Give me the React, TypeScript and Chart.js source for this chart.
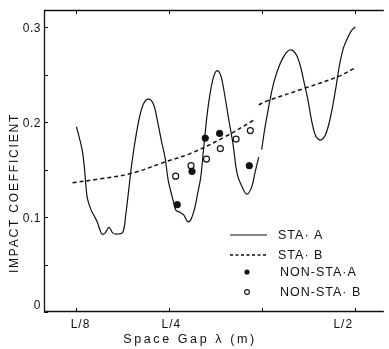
import { useEffect, useRef } from 'react';
import { Chart, registerables } from 'chart.js';

Chart.register(...registerables);

// ---- data (x in fractions of L, y = impact coefficient) ----
const xTickValues = [0.125, 0.25, 0.375, 0.5];
const xTickLabels = ['L/8', 'L/4', '', 'L/2'];
const yTickValues = [0, 0.05, 0.1, 0.15, 0.2, 0.25, 0.3];
const yTickLabels = ['0', '', '0.1', '', '0.2', '', '0.3'];

const staA1X = [0.1250, 0.1290, 0.1330, 0.1356, 0.1376, 0.1396, 0.1449, 0.1489, 0.1528, 0.1568, 0.1594, 0.1634, 0.1687, 0.1740, 0.1793, 0.1873, 0.1912, 0.1952, 0.1992, 0.2045, 0.2098, 0.2151, 0.2217, 0.2284, 0.2337, 0.2390, 0.2443, 0.2483, 0.2548, 0.2588, 0.2641, 0.2694, 0.2747, 0.2787, 0.2840, 0.2880, 0.2920, 0.2959, 0.2999, 0.3039, 0.3092, 0.3145, 0.3198, 0.3251, 0.3304, 0.3357, 0.3410, 0.3476, 0.3542, 0.3609, 0.3649, 0.3702];
const staA1Y = [0.195, 0.183, 0.169, 0.152, 0.134, 0.120, 0.107, 0.101, 0.095, 0.086, 0.082, 0.083, 0.089, 0.083, 0.082, 0.084, 0.102, 0.128, 0.155, 0.183, 0.205, 0.219, 0.224, 0.219, 0.202, 0.181, 0.162, 0.139, 0.118, 0.107, 0.105, 0.102, 0.095, 0.097, 0.109, 0.125, 0.141, 0.171, 0.202, 0.226, 0.247, 0.254, 0.247, 0.225, 0.200, 0.176, 0.146, 0.132, 0.124, 0.132, 0.146, 0.163];
const staA2X = [0.3741, 0.3781, 0.3820, 0.3860, 0.3913, 0.3993, 0.4072, 0.4139, 0.4205, 0.4258, 0.4311, 0.4364, 0.4417, 0.4470, 0.4536, 0.4602, 0.4669, 0.4735, 0.4788, 0.4841, 0.4894, 0.4947, 0.5000];
const staA2Y = [0.171, 0.192, 0.209, 0.226, 0.244, 0.262, 0.273, 0.276, 0.271, 0.260, 0.242, 0.223, 0.200, 0.185, 0.181, 0.187, 0.206, 0.234, 0.260, 0.278, 0.288, 0.296, 0.300];

const staB1X = [0.1197, 0.1555, 0.1992, 0.2443, 0.2787, 0.3238, 0.3635];
const staB1Y = [0.136, 0.140, 0.146, 0.158, 0.167, 0.184, 0.202];
const staB2X = [0.3702, 0.3807, 0.4337, 0.4775, 0.5000];
const staB2Y = [0.218, 0.222, 0.236, 0.248, 0.257];

const nonStaAX = [0.2606, 0.2804, 0.2982, 0.3175, 0.3575];
const nonStaAY = [0.113, 0.148, 0.183, 0.188, 0.154];
const nonStaBX = [0.2584, 0.2791, 0.2999, 0.3185, 0.3397, 0.3589];
const nonStaBY = [0.143, 0.154, 0.161, 0.172, 0.182, 0.191];

const legendLabels = ['STA· A', 'STA· B', 'NON-STA·A', 'NON-STA· B'];
const xTitle = 'Space Gap λ (m)';
const yTitle = 'IMPACT COEFFICIENT';

// ---- style ----
const FONT = "'Liberation Sans', Arial, sans-serif";
const INK = '#111';
const xLabelShift = [4, 2, 0, -12];

type P = { x: number; y: number | null };
const pts = (xs: number[], ys: number[]): P[] => xs.map((x, i) => ({ x, y: ys[i] }));
const joinSegs = (a: P[], b: P[]): P[] => [...a, { x: (a[a.length - 1].x + b[0].x) / 2, y: null }, ...b];

export default function App() {
  const ref = useRef<HTMLCanvasElement>(null);

  useEffect(() => {
    if (!ref.current) return;

    const overlay = {
      id: 'overlay',
      afterDraw(chart: any) {
        const ctx = chart.ctx as CanvasRenderingContext2D;
        const { left, right, top, bottom } = chart.chartArea;
        const xs = chart.scales.x;
        const ys = chart.scales.y;
        ctx.save();
        ctx.strokeStyle = INK;
        ctx.fillStyle = INK;
        // frame
        ctx.lineWidth = 1.3;
        ctx.beginPath();
        ctx.moveTo(right, top + 0.5);
        ctx.lineTo(left + 0.5, top + 0.5);
        ctx.lineTo(left + 0.5, bottom - 0.5);
        ctx.lineTo(right, bottom - 0.5);
        ctx.stroke();
        // ticks
        ctx.lineWidth = 1;
        ctx.beginPath();
        yTickValues.forEach((v) => {
          const py = Math.round(ys.getPixelForValue(v)) + 0.5;
          ctx.moveTo(left, py);
          ctx.lineTo(left + 4, py);
        });
        xTickValues.forEach((v) => {
          const px = Math.round(xs.getPixelForValue(v)) + 0.5;
          ctx.moveTo(px, bottom);
          ctx.lineTo(px, bottom - 4);
          ctx.moveTo(px, top);
          ctx.lineTo(px, top + 4);
        });
        ctx.stroke();
        // y tick labels
        ctx.font = `12px ${FONT}`;
        (ctx as any).letterSpacing = '0.5px';
        ctx.textAlign = 'right';
        ctx.textBaseline = 'middle';
        yTickValues.forEach((v, i) => {
          if (!yTickLabels[i]) return;
          const py = Math.min(ys.getPixelForValue(v) + 2, bottom - 6);
          ctx.fillText(yTickLabels[i], left - 3, py);
        });
        // x tick labels
        ctx.textAlign = 'center';
        ctx.textBaseline = 'middle';
        (ctx as any).letterSpacing = '1px';
        xTickValues.forEach((v, i) => {
          if (!xTickLabels[i]) return;
          ctx.fillText(xTickLabels[i], xs.getPixelForValue(v) + xLabelShift[i], bottom + 13);
        });
        // axis titles
        ctx.font = `12.5px ${FONT}`;
        (ctx as any).letterSpacing = '2.6px';
        ctx.fillText(xTitle, 190, 340);
        ctx.save();
        ctx.translate(15, 193);
        ctx.rotate(-Math.PI / 2);
        ctx.font = `12px ${FONT}`;
        (ctx as any).letterSpacing = '1.8px';
        ctx.fillText(yTitle, 0, 0);
        ctx.restore();
        // legend
        const rows = [235, 255, 272, 292];
        ctx.lineWidth = 1.1;
        ctx.beginPath();
        ctx.moveTo(230, rows[0]);
        ctx.lineTo(267, rows[0]);
        ctx.stroke();
        ctx.lineWidth = 1.3;
        ctx.setLineDash([3, 2.5]);
        ctx.beginPath();
        ctx.moveTo(230, rows[1]);
        ctx.lineTo(267, rows[1]);
        ctx.stroke();
        ctx.setLineDash([]);
        ctx.beginPath();
        ctx.arc(247, rows[2], 2.6, 0, Math.PI * 2);
        ctx.fill();
        ctx.lineWidth = 1.1;
        ctx.beginPath();
        ctx.arc(247, rows[3], 2.4, 0, Math.PI * 2);
        ctx.stroke();
        ctx.font = `12.5px ${FONT}`;
        (ctx as any).letterSpacing = '1px';
        ctx.textAlign = 'left';
        ctx.textBaseline = 'middle';
        legendLabels.forEach((t, i) => ctx.fillText(t, i < 2 ? 278 : 280, rows[i] + 1));
        ctx.restore();
      },
    };

    const chart = new Chart(ref.current, {
      type: 'line',
      data: {
        datasets: [
          {
            label: legendLabels[0],
            data: joinSegs(pts(staA1X, staA1Y), pts(staA2X, staA2Y)) as any,
            borderColor: INK,
            borderWidth: 1.2,
            pointRadius: 0,
            tension: 0.35,
            spanGaps: false,
            fill: false,
          },
          {
            label: legendLabels[1],
            data: joinSegs(pts(staB1X, staB1Y), pts(staB2X, staB2Y)) as any,
            borderColor: INK,
            borderWidth: 1.5,
            borderDash: [4, 3],
            pointRadius: 0,
            tension: 0.35,
            spanGaps: false,
            fill: false,
          },
          {
            label: legendLabels[2],
            data: pts(nonStaAX, nonStaAY) as any,
            showLine: false,
            pointRadius: 3.2,
            pointBackgroundColor: INK,
            pointBorderColor: INK,
            pointBorderWidth: 1,
          },
          {
            label: legendLabels[3],
            data: pts(nonStaBX, nonStaBY) as any,
            showLine: false,
            pointRadius: 3,
            pointBackgroundColor: '#fff',
            pointBorderColor: INK,
            pointBorderWidth: 1.2,
          },
        ],
      },
      options: {
        animation: false,
        responsive: false,
        maintainAspectRatio: false,
        devicePixelRatio: 1,
        layout: { padding: { top: 10, right: 0, left: 0, bottom: 0 } },
        plugins: { legend: { display: false }, tooltip: { enabled: false } },
        scales: {
          x: {
            type: 'linear',
            min: 0.0813,
            max: 0.5384,
            grid: { display: false, drawTicks: false },
            border: { display: false },
            ticks: { display: false },
            afterFit: (s: any) => { s.height = 37; },
          },
          y: {
            type: 'linear',
            min: 0,
            max: 0.3179,
            grid: { display: false, drawTicks: false },
            border: { display: false },
            ticks: { display: false },
            afterFit: (s: any) => { s.width = 44; },
          },
        },
      },
      plugins: [overlay],
    });

    return () => chart.destroy();
  }, []);

  return (
    <div style={{ position: 'fixed', left: 0, top: 0, width: 389, height: 349, background: '#fff' }}>
      <canvas ref={ref} width={389} height={349} style={{ display: 'block', width: 389, height: 349 }} />
    </div>
  );
}
